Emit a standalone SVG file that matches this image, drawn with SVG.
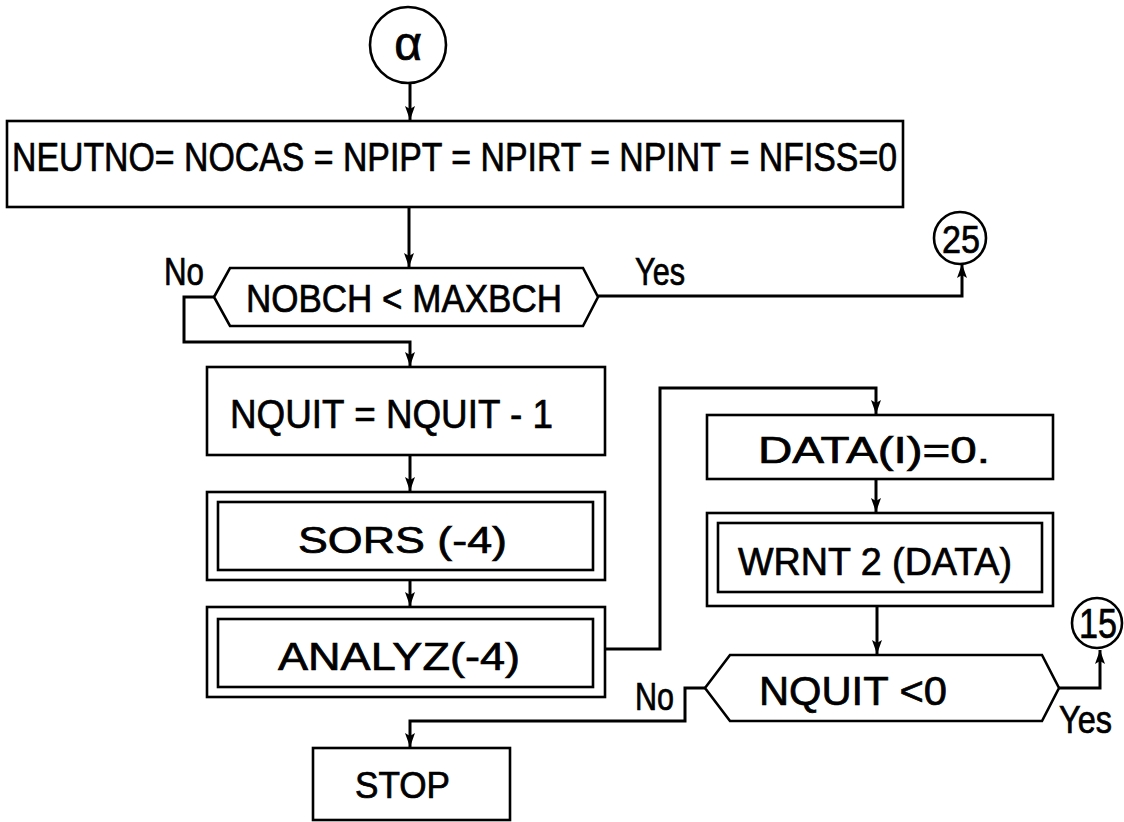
<svg xmlns="http://www.w3.org/2000/svg" width="1124" height="822" viewBox="0 0 1124 822">
<style>
.box{fill:#fff;stroke:#000;stroke-width:2.6}
.conn{fill:none;stroke:#000;stroke-width:3}
.t{font-family:"Liberation Sans Narrow","Liberation Sans",Arial,sans-serif;fill:#000;stroke:#000;stroke-width:0.7}
</style>
<defs>
<marker id="ah" markerUnits="userSpaceOnUse" markerWidth="15" markerHeight="12" refX="14" refY="5" orient="auto">
<path d="M0,0 L14,5 L0,10 L3,5 z" fill="#000"/>
</marker>
</defs>
<rect width="1124" height="822" fill="#fff"/>

<g id="connectors">
<path class="conn" d="M410,84 L410,120" marker-end="url(#ah)"/>
<path class="conn" d="M409,207 L409,267" marker-end="url(#ah)"/>
<path class="conn" d="M214,297 L184,297 L184,342 L410,342 L410,366" marker-end="url(#ah)"/>
<path class="conn" d="M598,296 L962,296 L962,264" marker-end="url(#ah)"/>
<path class="conn" d="M410,455 L410,491" marker-end="url(#ah)"/>
<path class="conn" d="M410,580 L410,606" marker-end="url(#ah)"/>
<path class="conn" d="M605,649 L660,649 L660,388 L876,388 L876,414" marker-end="url(#ah)"/>
<path class="conn" d="M876,479 L876,512" marker-end="url(#ah)"/>
<path class="conn" d="M877,606 L877,654" marker-end="url(#ah)"/>
<path class="conn" d="M705,688 L685,688 L685,721 L410,721 L410,747" marker-end="url(#ah)"/>
<path class="conn" d="M1059,688 L1100,688 L1100,650" marker-end="url(#ah)"/>
</g>

<g id="alpha">
<circle class="box" cx="408" cy="45" r="38"/>
<text class="t" x="408" y="60" font-size="48" text-anchor="middle">α</text>
</g>

<g id="init">
<rect class="box" x="7" y="121" width="896" height="86"/>
<text class="t" x="12" y="171" font-size="40" textLength="885" lengthAdjust="spacingAndGlyphs">NEUTNO= NOCAS = NPIPT = NPIRT = NPINT = NFISS=0</text>
</g>

<g id="dec1">
<polygon class="box" points="214,297 230,268 583,268 598,297 583,326 230,326"/>
<text class="t" x="246" y="312" font-size="39" textLength="316" lengthAdjust="spacingAndGlyphs">NOBCH &lt; MAXBCH</text>
<text class="t" x="164" y="285" font-size="38" textLength="40" lengthAdjust="spacingAndGlyphs">No</text>
<text class="t" x="635" y="285" font-size="38" textLength="50" lengthAdjust="spacingAndGlyphs">Yes</text>
</g>

<g id="c25">
<circle class="box" cx="960" cy="238" r="26"/>
<text class="t" x="942" y="253" font-size="39" textLength="38" lengthAdjust="spacingAndGlyphs">25</text>
</g>

<g id="nquit">
<rect class="box" x="207" y="367" width="398" height="88"/>
<text class="t" x="230" y="428" font-size="41" textLength="323" lengthAdjust="spacingAndGlyphs">NQUIT = NQUIT - 1</text>
</g>

<g id="sors">
<rect class="box" x="207" y="492" width="398" height="88"/>
<rect class="box" x="218" y="502" width="375" height="68"/>
<text class="t" x="298" y="553" font-size="37" textLength="209" lengthAdjust="spacingAndGlyphs">SORS (-4)</text>
</g>

<g id="analyz">
<rect class="box" x="207" y="607" width="398" height="90"/>
<rect class="box" x="218" y="619" width="375" height="68"/>
<text class="t" x="278" y="670" font-size="39" textLength="242" lengthAdjust="spacingAndGlyphs">ANALYZ(-4)</text>
</g>

<g id="data">
<rect class="box" x="707" y="415" width="346" height="64"/>
<text class="t" x="758" y="463" font-size="37" textLength="232" lengthAdjust="spacingAndGlyphs">DATA(I)=0.</text>
</g>

<g id="wrnt">
<rect class="box" x="707" y="513" width="346" height="93"/>
<rect class="box" x="718" y="523" width="324" height="69"/>
<text class="t" x="738" y="575" font-size="38" textLength="274" lengthAdjust="spacingAndGlyphs">WRNT 2 (DATA)</text>
</g>

<g id="dec2">
<polygon class="box" points="705,688 730,655 1042,655 1059,688 1042,721 730,721"/>
<text class="t" x="759" y="705" font-size="41" textLength="188" lengthAdjust="spacingAndGlyphs">NQUIT &lt;0</text>
<text class="t" x="635" y="710" font-size="38" textLength="39" lengthAdjust="spacingAndGlyphs">No</text>
<text class="t" x="1059" y="733" font-size="38" textLength="53" lengthAdjust="spacingAndGlyphs">Yes</text>
</g>

<g id="c15">
<circle class="box" cx="1097" cy="623" r="25"/>
<text class="t" x="1079" y="638" font-size="42" textLength="38" lengthAdjust="spacingAndGlyphs">15</text>
</g>

<g id="stop">
<rect class="box" x="313" y="748" width="197" height="72"/>
<text class="t" x="355" y="798" font-size="36" textLength="95" lengthAdjust="spacingAndGlyphs">STOP</text>
</g>
</svg>
